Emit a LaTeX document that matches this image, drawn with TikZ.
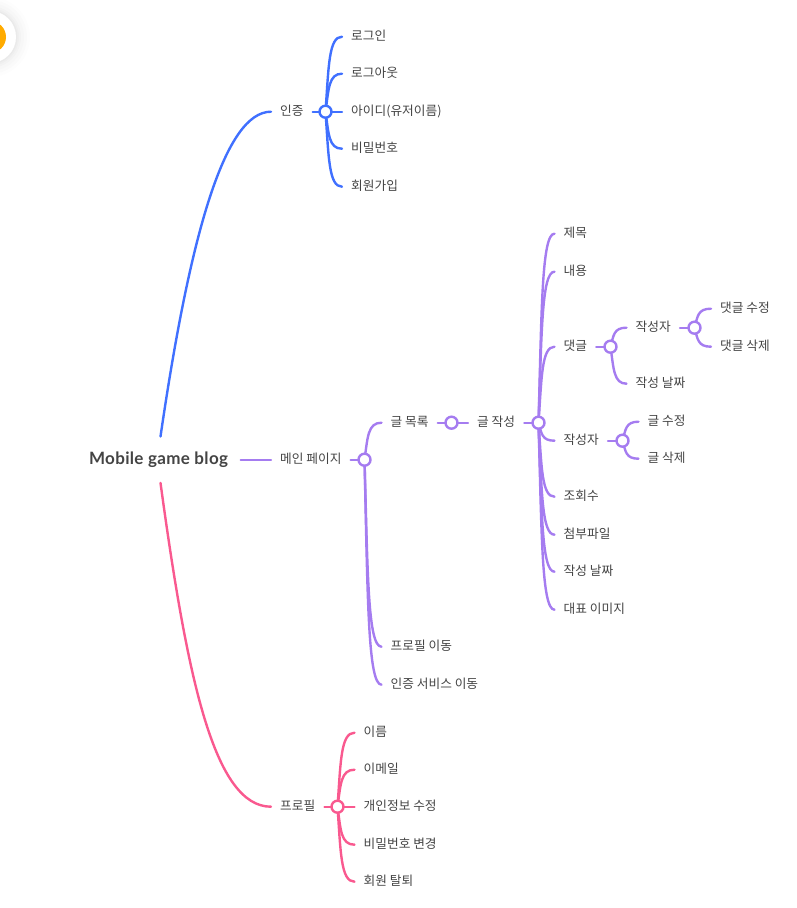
\documentclass[tikz,border=0pt]{standalone}
\usepackage{fontspec}
\setmainfont{Noto Sans CJK KR}
\newfontfamily\rootfont[LetterSpace=2]{Lato}
\usetikzlibrary{calc,backgrounds}
\definecolor{bluec}{HTML}{4070FF}
\definecolor{purpc}{HTML}{A57CF0}
\definecolor{pinkc}{HTML}{F9598F}
\definecolor{txtc}{HTML}{444444}
\definecolor{badge}{RGB}{255,171,0}
\tikzset{
  item/.style={anchor=west,inner xsep=9pt,inner ysep=0pt,text height=10.3pt,text depth=2.5pt,font=\fontsize{12.7pt}{14pt}\selectfont,text=txtc},
  hub/.style={circle,draw,fill=white,line width=2.4pt,inner sep=0pt,minimum size=12pt},
  link/.style={line width=2.4pt,line cap=round},
  b/.style={draw=bluec},
  p/.style={draw=purpc},
  k/.style={draw=pinkc}
}
\newcommand{\lnk}[3]{\draw[link,#1] (#2.center) .. controls ($(#2.center)!.6!(#2.center|-#3.west)+(3.2,0)$) and ($(#2.center|-#3.west)+(3.2,0)$) .. (#3.west);}
\newcommand{\str}[3]{\draw[link,#1] (#2.east) -- (#3.center);}
\begin{document}
\begin{tikzpicture}[x=1pt,y=-1pt]
\useasboundingbox (0,0) rectangle (797,908);
% badge
\begin{scope}
\clip (0,0) rectangle (797,908);
\foreach \r/\o in {40/.008,37/.01,34/.012,31/.014,29/.016,27.5/.02}{\fill[black,opacity=\o] (-10,37) circle (\r);}
\fill[white] (-10,37) circle (26);
\fill[badge] (-10,37) circle (16);
\end{scope}
\begin{scope}[shift={(0.5,0.7)}]
% root
\node[minimum width=160pt,minimum height=46pt,inner sep=0pt,text=txtc,font=\rootfont\bfseries\fontsize{17pt}{19pt}\selectfont] (root) at (160,459) {Mobile game blog\kern4pt};
% blue
\node[item] (auth) at (270.5,111) {인증};
\node[hub,draw=bluec] (hauth) at (325,111) {};
\node[item] (a1) at (341.5,36) {로그인};
\node[item] (a2) at (341.5,73) {로그아웃};
\node[item] (a3) at (341.5,111) {아이디(유저이름)};
\node[item] (a4) at (341.5,148) {비밀번호};
\node[item] (a5) at (341.5,186) {회원가입};
% purple
\node[item] (main) at (270.5,459) {메인 페이지};
\node[hub,draw=purpc] (hmain) at (364,459) {};
\node[item] (list) at (381,422) {글 목록};
\node[hub,draw=purpc] (hlist) at (451,422) {};
\node[item] (write) at (467.5,422) {글 작성};
\node[hub,draw=purpc] (hwrite) at (538,422) {};
\node[item] (w1) at (554,233) {제목};
\node[item] (w2) at (554,271) {내용};
\node[item] (w3) at (554,346) {댓글};
\node[hub,draw=purpc] (hw3) at (610,346) {};
\node[item] (c1) at (626,327) {작성자};
\node[hub,draw=purpc] (hc1) at (694,327) {};
\node[item] (d1) at (710.5,308) {댓글 수정};
\node[item] (d2) at (710.5,346) {댓글 삭제};
\node[item] (c2) at (626,383) {작성 날짜};
\node[item] (w4) at (554,440) {작성자};
\node[hub,draw=purpc] (hw4) at (622,440) {};
\node[item] (e1) at (638,421) {글 수정};
\node[item] (e2) at (638,458) {글 삭제};
\node[item] (w5) at (554,496) {조회수};
\node[item] (w6) at (554,534) {첨부파일};
\node[item] (w7) at (554,571) {작성 날짜};
\node[item] (w8) at (554,609) {대표 이미지};
\node[item] (m2) at (381,646) {프로필 이동};
\node[item] (m3) at (381,684) {인증 서비스 이동};
% pink
\node[item] (prof) at (270.5,806) {프로필};
\node[hub,draw=pinkc] (hprof) at (337,806) {};
\node[item] (p1) at (354,732) {이름};
\node[item] (p2) at (354,769) {이메일};
\node[item] (p3) at (354,806) {개인정보 수정};
\node[item] (p4) at (354,844) {비밀번호 변경};
\node[item] (p5) at (354,881) {회원 탈퇴};
\begin{scope}[on background layer]
% root links
\draw[link,b] (root.north) .. controls (190,230) and (225,111) .. (auth.west);
\draw[link,p] (root.east) -- (main.west);
\draw[link,k] (root.south) .. controls (187,680) and (214,806) .. (prof.west);
% blue
\str{b}{auth}{hauth}
\foreach \n in {a1,a2,a4,a5}{\lnk{b}{hauth}{\n}}
\draw[link,b] (hauth.center) -- (a3.west);
% purple
\str{p}{main}{hmain}
\foreach \n in {list,m2,m3}{\lnk{p}{hmain}{\n}}
\str{p}{list}{hlist}
\draw[link,p] (hlist.center) -- (write.west);
\str{p}{write}{hwrite}
\foreach \n in {w1,w2,w3,w4,w5,w6,w7,w8}{\lnk{p}{hwrite}{\n}}
\str{p}{w3}{hw3}
\foreach \n in {c1,c2}{\lnk{p}{hw3}{\n}}
\str{p}{c1}{hc1}
\foreach \n in {d1,d2}{\lnk{p}{hc1}{\n}}
\str{p}{w4}{hw4}
\foreach \n in {e1,e2}{\lnk{p}{hw4}{\n}}
% pink
\str{k}{prof}{hprof}
\foreach \n in {p1,p2,p4,p5}{\lnk{k}{hprof}{\n}}
\draw[link,k] (hprof.center) -- (p3.west);
\end{scope}
\end{scope}
\end{tikzpicture}
\end{document}
